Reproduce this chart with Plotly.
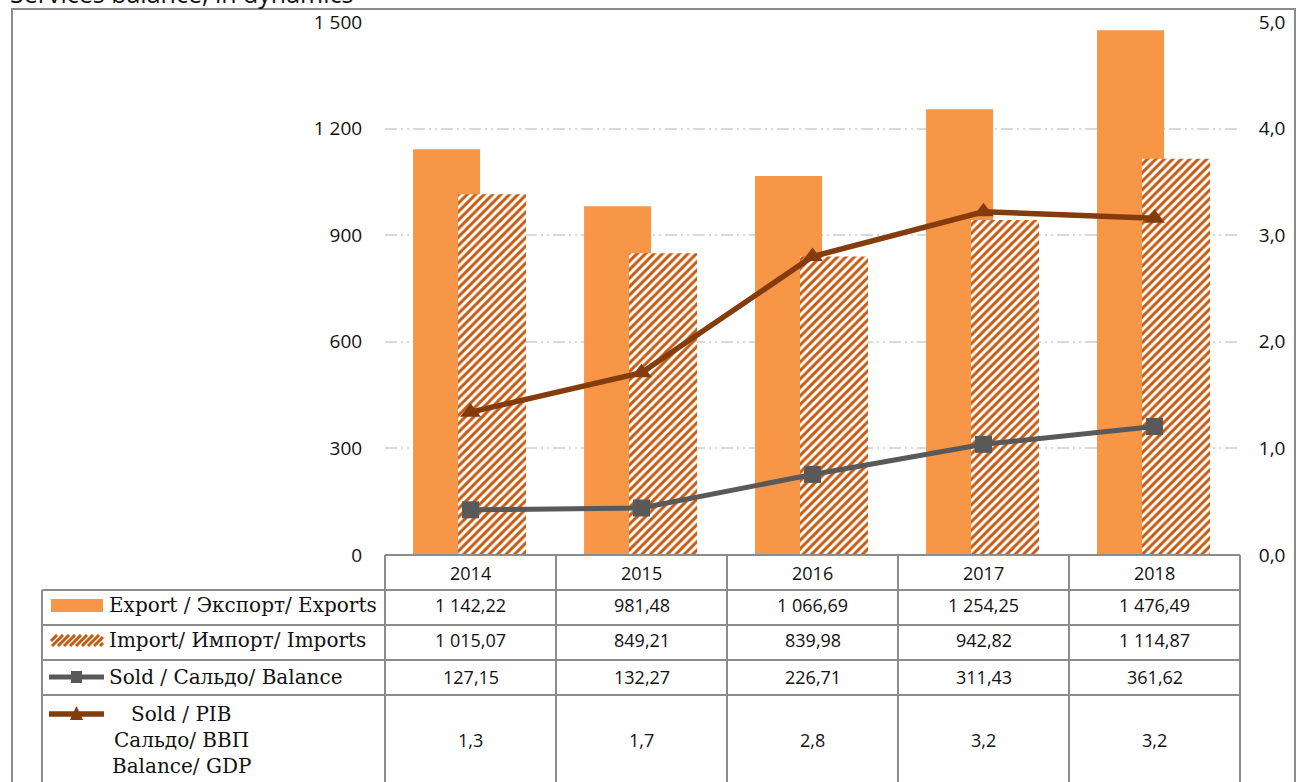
import plotly.graph_objects as go

# ---------------- data ----------------
years = ["2014", "2015", "2016", "2017", "2018"]
exports = [1142.22, 981.48, 1066.69, 1254.25, 1476.49]
imports = [1015.07, 849.21, 839.98, 942.82, 1114.87]
balance = [127.15, 132.27, 226.71, 311.43, 361.62]
balance_gdp = [1.34, 1.71, 2.80, 3.22, 3.16]

left_ticks = [0, 300, 600, 900, 1200, 1500]
left_tick_text = ["0", "300", "600", "900", "1 200", "1 500"]
right_ticks = [0, 1, 2, 3, 4, 5]
right_tick_text = ["0,0", "1,0", "2,0", "3,0", "4,0", "5,0"]

row_labels = ["Export / Экспорт/ Exports", "Import/ Импорт/ Imports", "Sold / Сальдо/ Balance"]
gdp_label_lines = ["Sold / PIB", "Сальдо/ ВВП", "Balance/ GDP"]
title_text = "Services balance, in dynamics"

# ---------------- styles ----------------
W, H = 1306, 782
ORANGE = "#F79646"
HATCH = "#C55A11"
GRAY = "#595959"
BROWN = "#843C0C"
GRID = "#D9D9D9"
BORDER = "#8C8C8C"
NUM_FONT = "Open Sans"
LBL_FONT = "DejaVu Serif"


def px(x):
    return x / W


def py(y):
    return 1 - y / H


def fmt2(v):
    return f"{v:,.2f}".replace(",", " ").replace(".", ",")


def fmt1(v):
    return f"{v:.1f}".replace(".", ",")


xs = list(range(len(years)))

# plot area in pixels
X0, X1 = 385, 1240
Y_ZERO, Y_TOP = 555, 22
col_w = (X1 - X0) / len(years)

fig = go.Figure()

fig.add_trace(go.Bar(
    x=xs, y=exports, name=row_labels[0],
    marker=dict(color=ORANGE, line=dict(width=0), opacity=1),
    width=0.392, offset=-0.336, yaxis="y", showlegend=False,
))
fig.add_trace(go.Bar(
    x=xs, y=imports, name=row_labels[1],
    marker=dict(color=HATCH, line=dict(width=0), opacity=1,
                pattern=dict(shape="/", fgcolor=HATCH, bgcolor="white",
                             size=6, solidity=0.5, fgopacity=1, fillmode="replace")),
    width=0.398, offset=-0.073, yaxis="y", showlegend=False,
))
fig.add_trace(go.Scatter(
    x=xs, y=balance, name=row_labels[2], mode="lines+markers",
    line=dict(color=GRAY, width=5),
    marker=dict(symbol="square", size=17, color=GRAY),
    yaxis="y", showlegend=False,
))
fig.add_trace(go.Scatter(
    x=xs, y=balance_gdp, name=" ".join(gdp_label_lines), mode="lines+markers",
    line=dict(color=BROWN, width=5.5),
    marker=dict(symbol="triangle-up", size=18, color=BROWN),
    yaxis="y2", showlegend=False,
))

shapes = []
annotations = []

# outer frame
shapes.append(dict(type="rect", xref="paper", yref="paper",
                   x0=px(12), x1=px(1295), y0=py(800), y1=py(9),
                   line=dict(color=BORDER, width=2), fillcolor="rgba(0,0,0,0)", layer="below"))

# table grid
line_style = dict(color=BORDER, width=2)
shapes.append(dict(type="line", xref="paper", yref="paper",
                   x0=px(X0), x1=px(X1), y0=py(Y_ZERO), y1=py(Y_ZERO), line=line_style))
row_y = [590, 625, 660, 695]
for yy in row_y:
    shapes.append(dict(type="line", xref="paper", yref="paper",
                       x0=px(42), x1=px(X1), y0=py(yy), y1=py(yy), line=line_style))
for i in range(len(years) + 1):
    xx = X0 + i * col_w
    shapes.append(dict(type="line", xref="paper", yref="paper",
                       x0=px(xx), x1=px(xx), y0=py(Y_ZERO), y1=py(800), line=line_style))
shapes.append(dict(type="line", xref="paper", yref="paper",
                   x0=px(42), x1=px(42), y0=py(590), y1=py(800), line=line_style))

# legend keys
shapes.append(dict(type="rect", xref="paper", yref="paper",
                   x0=px(51), x1=px(103), y0=py(612), y1=py(599),
                   fillcolor=ORANGE, line=dict(width=0)))
# hatched key
k_x0, k_x1, k_y0, k_y1 = 51, 103, 635, 646
step = 6
xx = k_x0 - (k_y1 - k_y0)
while xx < k_x1:
    a0, b0 = xx, k_y1
    a1, b1 = xx + (k_y1 - k_y0), k_y0
    if a0 < k_x0:
        b0 = k_y1 - (k_x0 - a0)
        a0 = k_x0
    if a1 > k_x1:
        b1 = k_y0 + (a1 - k_x1)
        a1 = k_x1
    if a1 > a0:
        shapes.append(dict(type="line", xref="paper", yref="paper",
                           x0=px(a0), x1=px(a1), y0=py(b0), y1=py(b1),
                           line=dict(color=HATCH, width=3)))
    xx += step
# line keys
shapes.append(dict(type="line", xref="paper", yref="paper",
                   x0=px(49), x1=px(104), y0=py(677), y1=py(677),
                   line=dict(color=GRAY, width=5)))
shapes.append(dict(type="rect", xref="paper", yref="paper",
                   x0=px(71), x1=px(82), y0=py(683), y1=py(671),
                   fillcolor=GRAY, line=dict(width=0)))
shapes.append(dict(type="line", xref="paper", yref="paper",
                   x0=px(49), x1=px(104), y0=py(714), y1=py(714),
                   line=dict(color=BROWN, width=5.5)))
shapes.append(dict(type="path", xref="paper", yref="paper",
                   path=f"M {px(70)} {py(720)} L {px(83)} {py(720)} L {px(76.5)} {py(706)} Z",
                   fillcolor=BROWN, line=dict(width=0)))

# row labels
lbl_font = dict(family=LBL_FONT, size=20, color="#111111")
for lab, yy in zip(row_labels, [605, 640, 677]):
    annotations.append(dict(text=lab, xref="paper", yref="paper", x=px(107), y=py(yy),
                            xanchor="left", yanchor="middle", showarrow=False, font=lbl_font))
for lab, yy in zip(gdp_label_lines, [714, 740, 766]):
    annotations.append(dict(text=lab, xref="paper", yref="paper", x=px(181), y=py(yy),
                            xanchor="center", yanchor="middle", showarrow=False, font=lbl_font))

# table values
num_font = dict(family=NUM_FONT, size=18, color="#111111")
for i, yr in enumerate(years):
    cx = X0 + (i + 0.5) * col_w
    annotations.append(dict(text=yr, xref="paper", yref="paper", x=px(cx), y=py(573),
                            xanchor="center", yanchor="middle", showarrow=False, font=num_font))
    for val, yy in [(fmt2(exports[i]), 605), (fmt2(imports[i]), 640), (fmt2(balance[i]), 677),
                    (fmt1(balance_gdp[i]), 740)]:
        annotations.append(dict(text=val, xref="paper", yref="paper", x=px(cx), y=py(yy),
                                xanchor="center", yanchor="middle", showarrow=False, font=num_font))

# title, cut off at the top edge as in the reference
annotations.append(dict(text=title_text, xref="paper", yref="paper", x=px(8), y=py(-7),
                        xanchor="left", yanchor="middle", showarrow=False,
                        font=dict(family=NUM_FONT, size=25, color="#111111")))

fig.update_layout(
    template="none",
    width=W, height=H,
    margin=dict(l=0, r=0, t=0, b=0, pad=0),
    autosize=False,
    paper_bgcolor="white", plot_bgcolor="white",
    barmode="overlay",
    showlegend=False,
    xaxis=dict(domain=[px(X0), px(X1)], range=[-0.5, len(years) - 0.5],
               showgrid=False, zeroline=False, showticklabels=False, ticks="",
               showline=False, automargin=False, fixedrange=True),
    yaxis=dict(domain=[py(Y_ZERO), py(Y_TOP)], range=[0, 1500],
               tickvals=left_ticks, ticktext=left_tick_text,
               showgrid=True, gridcolor=GRID, gridwidth=1.5,
               griddash="12px,4px,2px,4px,2px,4px",
               zeroline=False, showline=False, ticks="outside", ticklen=18,
               tickcolor="rgba(0,0,0,0)", automargin=False,
               tickfont=dict(family=NUM_FONT, size=19, color="#111111")),
    yaxis2=dict(domain=[py(Y_ZERO), py(Y_TOP)], range=[0, 5], overlaying="y", side="right",
                tickvals=right_ticks, ticktext=right_tick_text,
                showgrid=False, zeroline=False, showline=False, ticks="outside", ticklen=14,
                tickcolor="rgba(0,0,0,0)", automargin=False,
                tickfont=dict(family=NUM_FONT, size=19, color="#111111")),
    shapes=shapes,
    annotations=annotations,
)

fig.write_html("out.html", config={"displayModeBar": False},
               post_script="document.body.style.margin='0';")
